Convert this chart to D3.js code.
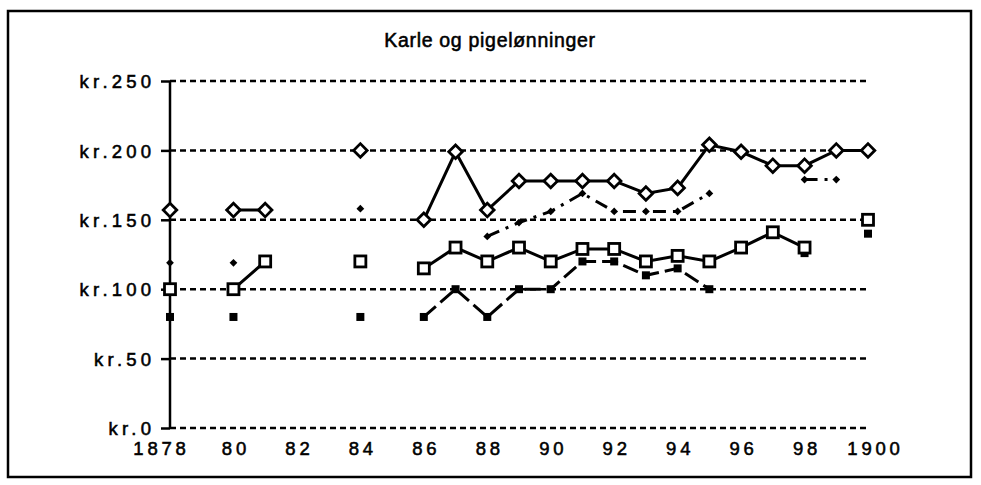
<!DOCTYPE html>
<html>
<head>
<meta charset="utf-8">
<script src="https://cdn.jsdelivr.net/npm/d3@7/dist/d3.min.js"></script>
<style>
  html, body { margin: 0; padding: 0; background: #fff; }
  svg { display: block; }
  text { font-family: "Liberation Sans", Arial, Helvetica, sans-serif; fill: #000; stroke: #000; stroke-width: 0.55px; }
</style>
</head>
<body>
<svg id="chart" width="981" height="485"></svg>
<script>
// ---- data ----
const title = "Karle og pigelønninger";
const years = [1878,1879,1880,1881,1882,1883,1884,1885,1886,1887,1888,1889,1890,1891,1892,1893,1894,1895,1896,1897,1898,1899,1900];
// open diamonds, solid line
const seriesA = [157,null,157,157,null,null,200,null,150,199,157,178,178,178,178,169,173,204,199,189,189,200,200];
// small dots, dash-dot line
const seriesB = [119,null,119,null,null,null,158,null,null,null,138,148,156,169,156,156,156,169,null,null,179,179,null];
// open squares, solid line
const seriesC = [100,null,100,120,null,null,120,null,115,130,120,130,120,129,129,120,124,120,130,141,130,null,150];
// filled squares, dashed line
const seriesD = [80,null,80,null,null,null,80,null,80,100,80,100,100,120,120,110,115,100,null,null,126,null,140];
const yTicks = [0,50,100,150,200,250];
const yTickLabels = ["kr.0","kr.50","kr.100","kr.150","kr.200","kr.250"];
const xTicks = [1878,1880,1882,1884,1886,1888,1890,1892,1894,1896,1898,1900];
const xTickLabels = ["1878","80","82","84","86","88","90","92","94","96","98","1900"];

// ---- drawing ----
const svg = d3.select("#chart");
const x = d3.scaleLinear().domain([1878, 1900]).range([170, 868]);
const y = d3.scaleLinear().domain([0, 250]).range([428, 81]);

// frame
svg.append("rect").attr("x", 8).attr("y", 11).attr("width", 963).attr("height", 466)
  .attr("fill", "none").attr("stroke", "#000").attr("stroke-width", 2.5);

// title
svg.append("text").attr("x", 490).attr("y", 47).attr("text-anchor", "middle")
  .attr("font-size", 19.5).attr("letter-spacing", 0.7).text(title);

// gridlines
svg.append("g").selectAll("line").data(yTicks).join("line")
  .attr("x1", x(1878)).attr("x2", 870)
  .attr("y1", d => y(d)).attr("y2", d => y(d))
  .attr("stroke", "#000").attr("stroke-width", 2.5).attr("stroke-dasharray", "6,4");

// y axis via d3.axisLeft
const yAxis = d3.axisLeft(y).tickValues(yTicks).tickSize(9).tickPadding(10)
  .tickFormat((d, i) => yTickLabels[i]);
const gy = svg.append("g").attr("transform", `translate(${x(1878)},0)`).call(yAxis);
gy.select(".domain").attr("stroke", "#000").attr("stroke-width", 2.5).attr("d", `M0,${y(250)}V${y(0)}`);
gy.selectAll(".tick line").attr("stroke", "#000").attr("stroke-width", 2.5);
gy.selectAll(".tick text").attr("font-size", 18.5).attr("letter-spacing", 4.2)
  .attr("font-family", "'Liberation Sans', Arial, sans-serif").attr("fill", "#000")
  .attr("dx", 4.2).attr("dy", "0.36em");

// x axis labels via d3.axisBottom (no domain/ticks shown)
const xAxis = d3.axisBottom(x).tickValues(xTicks).tickSize(0).tickPadding(14)
  .tickFormat((d, i) => xTickLabels[i]);
const gx = svg.append("g").attr("transform", `translate(0,${y(0)})`).call(xAxis);
gx.select(".domain").remove();
gx.selectAll(".tick text").attr("font-size", 18.5).attr("letter-spacing", 3.8)
  .attr("font-family", "'Liberation Sans', Arial, sans-serif").attr("fill", "#000")
  .attr("dx", 2).attr("dy", "0.71em");
gx.selectAll(".tick").filter(d => d === 1878).select("text").attr("dx", -9);
gx.selectAll(".tick").filter(d => d === 1900).select("text").attr("dx", 7);

function pts(vals) { return years.map((yr, i) => ({ yr, v: vals[i] })); }
const line = d3.line().defined(d => d.v != null).x(d => x(d.yr)).y(d => y(d.v));

// series D: filled squares, dashed
svg.append("path").datum(pts(seriesD)).attr("d", line).attr("fill", "none")
  .attr("stroke", "#000").attr("stroke-width", 3).attr("stroke-dasharray", "16,6");
// series B: dash-dot
svg.append("path").datum(pts(seriesB)).attr("d", line).attr("fill", "none")
  .attr("stroke", "#000").attr("stroke-width", 3).attr("stroke-dasharray", "13,7,3,7");
// series C: solid
svg.append("path").datum(pts(seriesC)).attr("d", line).attr("fill", "none")
  .attr("stroke", "#000").attr("stroke-width", 3);
// series A: solid
svg.append("path").datum(pts(seriesA)).attr("d", line).attr("fill", "none")
  .attr("stroke", "#000").attr("stroke-width", 3);

const valid = vals => pts(vals).filter(d => d.v != null);

// markers D
svg.append("g").selectAll("rect").data(valid(seriesD)).join("rect")
  .attr("x", d => x(d.yr) - 4).attr("y", d => y(d.v) - 4).attr("width", 8).attr("height", 8)
  .attr("fill", "#000");
// markers B (small rotated squares)
const sb = d3.symbol().type(d3.symbolSquare).size(30);
svg.append("g").selectAll("path").data(valid(seriesB)).join("path")
  .attr("transform", d => `translate(${x(d.yr)},${y(d.v)}) rotate(45)`).attr("d", sb).attr("fill", "#000");
// markers C
svg.append("g").selectAll("rect").data(valid(seriesC)).join("rect")
  .attr("x", d => x(d.yr) - 5.5).attr("y", d => y(d.v) - 5.5).attr("width", 11).attr("height", 11)
  .attr("fill", "#fff").attr("stroke", "#000").attr("stroke-width", 2.8);
// markers A (open diamonds = rotated squares)
const sa = d3.symbol().type(d3.symbolSquare).size(92);
svg.append("g").selectAll("path").data(valid(seriesA)).join("path")
  .attr("transform", d => `translate(${x(d.yr)},${y(d.v)}) rotate(45)`).attr("d", sa)
  .attr("fill", "#fff").attr("stroke", "#000").attr("stroke-width", 2.8);
</script>
</body>
</html>
